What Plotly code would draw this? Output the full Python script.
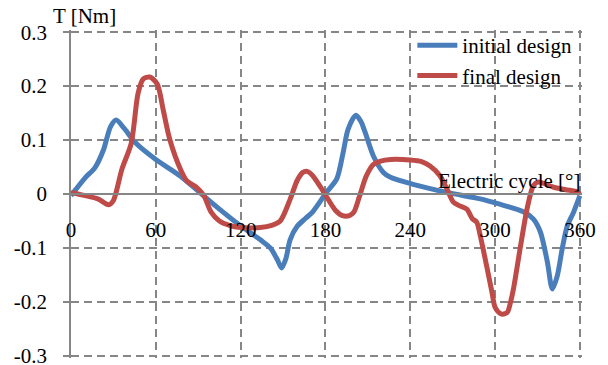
import plotly.graph_objects as go

# Cogging torque over one electric cycle
angle_initial = [0, 10, 17, 23, 28, 32, 37.5, 46, 60, 77, 91, 105, 120, 134, 141, 146, 149,
                 152, 155, 160, 166, 171, 181, 188, 192.6, 196, 201.5, 205, 208, 214, 221,
                 226, 242, 266, 289.5, 302, 320, 327, 332, 337, 340.5, 344, 347.6, 351,
                 355.5, 360]
torque_initial = [-0.003, 0.03, 0.049, 0.082, 0.125, 0.137, 0.122, 0.094, 0.064, 0.034,
                  0.003, -0.028, -0.059, -0.085, -0.10, -0.122, -0.137, -0.12, -0.085,
                  -0.06, -0.045, -0.033, 0.004, 0.028, 0.078, 0.12, 0.146, 0.135, 0.115,
                  0.07, 0.04, 0.031, 0.018, 0.003, -0.009, -0.018, -0.033, -0.046, -0.07,
                  -0.126, -0.176, -0.152, -0.10, -0.06, -0.034, -0.003]

angle_final = [0, 10, 19, 26.6, 30, 36, 42.6, 47.4, 51, 55.7, 61, 65.3, 70, 77.4, 82, 89,
               94, 99, 105, 112, 120, 134, 142, 148, 155, 160, 164, 167, 171, 176, 181,
               187, 192, 197, 200, 204, 209, 214, 219, 226, 240, 248, 254, 261, 266,
               270.5, 275, 280, 284, 287, 289.5, 294, 297.8, 300, 304, 307, 309, 311,
               313, 317.8, 322.6, 327, 330, 334, 341, 350, 358, 360]
torque_final = [0.003, -0.003, -0.009, -0.02, -0.012, 0.046, 0.094, 0.186, 0.213, 0.217,
                0.204, 0.155, 0.10, 0.046, 0.024, 0.012, -0.003, -0.033, -0.05, -0.058,
                -0.062, -0.062, -0.058, -0.05, -0.01, 0.025, 0.04, 0.042, 0.034, 0.015,
                -0.006, -0.03, -0.04, -0.04, -0.034, -0.005, 0.034, 0.055, 0.061, 0.064,
                0.063, 0.06, 0.052, 0.034, 0.009, -0.015, -0.022, -0.028, -0.046, -0.052,
                -0.077, -0.133, -0.182, -0.21, -0.222, -0.222, -0.218, -0.2, -0.176,
                -0.10, -0.028, 0.015, 0.022, 0.02, 0.013, 0.008, 0.004, 0.0]

x_ticks = [0, 60, 120, 180, 240, 300, 360]
y_ticks = [-0.3, -0.2, -0.1, 0, 0.1, 0.2, 0.3]
y_tick_text = ["-0.3", "-0.2", "-0.1", "0", "0.1", "0.2", "0.3"]

FONT = "Liberation Serif"
GRID = "#868686"
FS = 21

fig = go.Figure()
fig.add_trace(go.Scatter(x=angle_initial, y=torque_initial, mode="lines",
                         name="initial design",
                         line=dict(color="#4A7EBB", width=5, shape="spline", smoothing=0.8)))
fig.add_trace(go.Scatter(x=angle_final, y=torque_final, mode="lines",
                         name="final design",
                         line=dict(color="#BE4B48", width=5, shape="spline", smoothing=0.8)))

# ranges padded by ~2 px so the outer dashed grid lines are kept
fig.update_layout(
    width=608, height=365,
    margin=dict(l=71, r=26, t=30, b=7),
    paper_bgcolor="white", plot_bgcolor="white",
    font=dict(family=FONT, size=FS, color="black"),
    showlegend=True,
    legend=dict(x=0.668, y=1.015, xanchor="left", yanchor="top",
                bgcolor="rgba(0,0,0,0)", font=dict(family=FONT, size=FS),
                tracegroupgap=0, itemwidth=40),
    xaxis=dict(range=[0, 361.5], tickvals=x_ticks, ticktext=[str(v) for v in x_ticks],
               showgrid=True, gridcolor=GRID, gridwidth=1.5, griddash="8px,5px",
               zeroline=False, showline=True, linecolor=GRID, linewidth=1.5,
               anchor="free", position=0.5, ticks="", ticklabelstandoff=17,
               automargin=False,
               ticklabeloverflow="allow", tickfont=dict(family=FONT, size=FS)),
    yaxis=dict(range=[-0.3041, 0.3041], tickvals=y_ticks, ticktext=y_tick_text,
               showgrid=True, gridcolor=GRID, gridwidth=1.5, griddash="8px,5px",
               zeroline=False, showline=True, linecolor=GRID, linewidth=1.5,
               ticks="outside", ticklen=6, tickcolor=GRID, tickwidth=1.5,
               ticklabelstandoff=12, ticklabeloverflow="allow", automargin=False,
               tickfont=dict(family=FONT, size=FS)),
    annotations=[
        dict(text="T [Nm]", xref="paper", yref="paper", x=-0.04, y=1.0,
             xanchor="left", yanchor="bottom", yshift=0, showarrow=False,
             font=dict(family=FONT, size=FS)),
        dict(text="Electric cycle [°]", xref="x", yref="y", x=360, y=0,
             xanchor="right", yanchor="bottom", yshift=-1, xshift=2, showarrow=False,
             font=dict(family=FONT, size=FS)),
    ],
)

fig.write_html("out.html")
